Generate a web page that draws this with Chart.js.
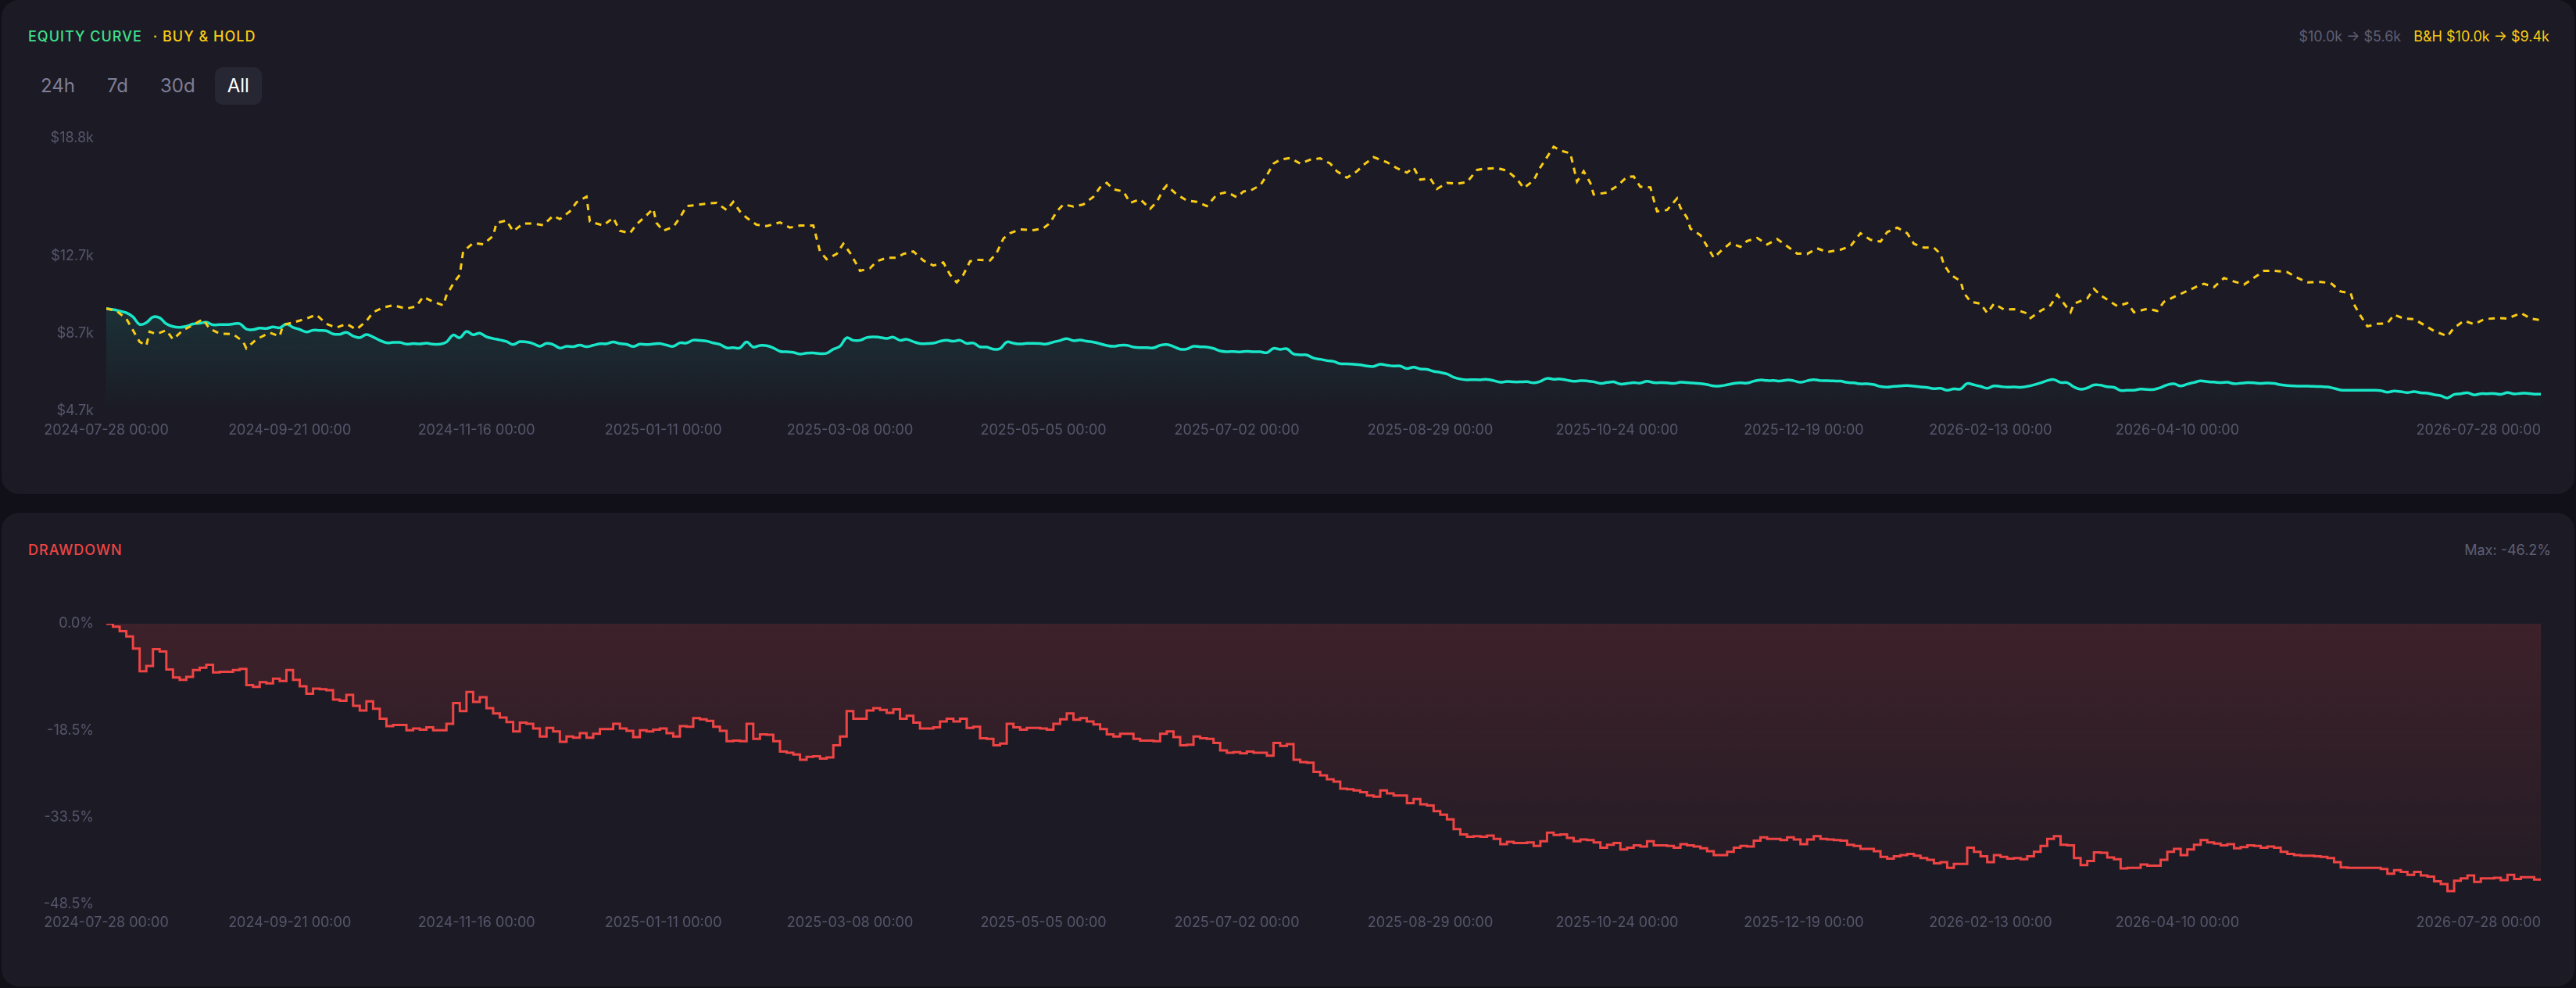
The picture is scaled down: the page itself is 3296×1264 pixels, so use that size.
<!DOCTYPE html>
<html>
<head>
<meta charset="utf-8">
<script src="https://cdn.jsdelivr.net/npm/chart.js@4.4.1/dist/chart.umd.min.js"></script>
<style>
  html, body { margin:0; padding:0; width:3296px; height:1264px; overflow:hidden; background:#111018; font-family:Inter, "Noto Sans", sans-serif; }
  .panel { position:absolute; left:2px; width:3292px; background:#1c1b25; border-radius:22px; }
  #p1 { top:0; height:632px; }
  #p2 { top:656px; height:606px; }
  .txt { position:absolute; font-size:18px; line-height:18px; white-space:nowrap; }
  .title { letter-spacing:1px; font-weight:500; }
  #t1 { left:36px; top:38px; color:#3ee08c; }
  #t1 span { color:#facc15; margin-left:14px; }
  #r1 { right:34px; top:38px; color:#5f5e73; }
  #r1 span { color:#facc15; margin-left:16px; }
  #t2 { left:36px; top:695px; color:#ef4444; }
  #r2 { right:32px; top:695px; color:#5f5e73; }
  #btns { position:absolute; left:36px; top:86px; display:flex; gap:9px; }
  #btns div { height:48px; line-height:48px; padding:0 16px; border-radius:10px; font-size:24px; color:#7f7e96; }
  #btns div.on { background:#272633; color:#ffffff; }
  .wrap { position:absolute; left:0; width:3296px; }
  #w1 { top:150px; height:420px; }
  #w2 { top:770px; height:440px; }
</style>
</head>
<body>
<div class="panel" id="p1"></div>
<div class="panel" id="p2"></div>
<div class="txt title" id="t1">EQUITY CURVE<span>· BUY &amp; HOLD</span></div>
<div class="txt" id="r1">$10.0k → $5.6k<span>B&amp;H $10.0k → $9.4k</span></div>
<div id="btns"><div>24h</div><div>7d</div><div>30d</div><div class="on">All</div></div>
<div class="txt title" id="t2">DRAWDOWN</div>
<div class="txt" id="r2">Max: -46.2%</div>
<div class="wrap" id="w1"><canvas id="c1"></canvas></div>
<div class="wrap" id="w2"><canvas id="c2"></canvas></div>
<script>
// ---------------- data ----------------
const startDate = '2024-07-28';
const sampleEveryDays = 2;
const xTickDates = ['2024-07-28','2024-09-21','2024-11-16','2025-01-11','2025-03-08','2025-05-05',
  '2025-07-02','2025-08-29','2025-10-24','2025-12-19','2026-02-13','2026-04-10','2026-07-28'];
const equityTicks = [4700, 8700, 12700, 18800];
const drawdownTicks = [0, -18.5, -33.5, -48.5];

const strategyEquity = [
  10000,9950,9870,9780,9570,9180,9270,9560,9520,9210,
  9070,9030,9080,9200,9240,9290,9160,9170,9170,9200,
  9220,8940,8910,8990,8970,9050,9010,9200,9030,8920,
  8790,8880,8870,8850,8690,8670,8770,8580,8500,8660,
  8530,8360,8230,8250,8250,8160,8190,8170,8210,8160,
  8160,8270,8630,8490,8820,8650,8730,8540,8450,8380,
  8300,8140,8290,8270,8190,8050,8200,8140,7960,8050,
  8030,8110,8030,8100,8180,8180,8270,8190,8150,8040,
  8160,8140,8170,8190,8110,8050,8230,8220,8370,8350,
  8320,8220,8150,
  7970,7980,7970,8270,8010,8090,8080,7970,7790,7770,
  7740,7650,7700,7710,7670,7690,7900,8050,8490,8360,
  8360,8500,8540,8510,8460,8520,8360,8410,8290,8190,
  8190,8210,8310,8360,8310,8360,8200,8220,8020,8010,
  7900,7930,8270,8210,8170,8200,8200,8190,8170,8270,
  8350,8450,8340,8370,8310,8260,8180,8090,8050,8100,
  8100,8010,7980,7980,7970,8100,8140,8040,7900,7910,
  8050,8020,8010,7940,7810,7770,7780,7760,7790,7770,
  7770,7720,7940,7890,7920,7650,7610,7600,7440,7380,
  7310,
  7270,7150,7140,7120,7090,7030,7010,7120,7070,7030,
  7030,6900,6970,6880,6860,6760,6700,6620,6450,6360,
  6320,6330,6320,6340,6280,6190,6230,6210,6210,6220,
  6160,6240,6390,6350,6360,6300,6240,6270,6260,6220,
  6130,6180,6210,6100,6130,6170,6150,6240,6170,6170,
  6160,6130,6190,6170,6150,6120,6070,6000,6000,6060,
  6130,6160,6150,6250,6310,6280,6280,6260,6310,6270,
  6190,6270,6330,6280,6270,6260,6250,6180,6160,6110,
  6110,6070,5970,5940,5980,6000,6020,5990,5950,5920,
  5860,5880,5780,5850,5850,6130,6060,5980,5880,6000,
  5970,5940,5950,5930,5980,6060,6160,6280,6330,6180,
  6170,5950,5830,5900,6050,6040,5960,5930,5770,5780,
  5780,5840,5820,5820,5920,6060,6110,6000,6100,6180,
  6260,6220,6200,6170,6190,6120,6140,6170,6160,6130,
  6150,6130,6060,6020,6000,5990,5990,5980,5970,5950,
  5880,5790,5780,5780,5780,5780,5780,5760,5680,5740,
  5710,5660,5710,5650,5630,5550,5500,5380,5560,5600,
  5650,5540,5600,5600,5610,5570,5660,5590,5620,5620,
  5580,5580
];

const strategyDrawdown = [
  0,-0.5,-1.3,-2.2,-4.3,-8.2,-7.3,-4.4,-4.8,-7.9,
  -9.3,-9.7,-9.2,-8.0,-7.6,-7.1,-8.4,-8.3,-8.3,-8.0,
  -7.8,-10.6,-10.9,-10.1,-10.3,-9.5,-9.9,-8.0,-9.7,-10.8,
  -12.1,-11.2,-11.3,-11.5,-13.1,-13.3,-12.3,-14.2,-15.0,-13.4,
  -14.7,-16.4,-17.7,-17.5,-17.5,-18.4,-18.1,-18.3,-17.9,-18.4,
  -18.4,-17.3,-13.7,-15.1,-11.8,-13.5,-12.7,-14.6,-15.5,-16.2,
  -17.0,-18.6,-17.1,-17.3,-18.1,-19.5,-18.0,-18.6,-20.4,-19.5,
  -19.7,-18.9,-19.7,-19.0,-18.2,-18.2,-17.3,-18.1,-18.5,-19.6,
  -18.4,-18.6,-18.3,-18.1,-18.9,-19.5,-17.7,-17.8,-16.3,-16.5,
  -16.8,-17.8,-18.5,
  -20.3,-20.2,-20.3,-17.3,-19.9,-19.1,-19.2,-20.3,-22.1,-22.3,
  -22.6,-23.5,-23.0,-22.9,-23.3,-23.1,-21.0,-19.5,-15.1,-16.4,
  -16.4,-15.0,-14.6,-14.9,-15.4,-14.8,-16.4,-15.9,-17.1,-18.1,
  -18.1,-17.9,-16.9,-16.4,-16.9,-16.4,-18.0,-17.8,-19.8,-19.9,
  -21.0,-20.7,-17.3,-17.9,-18.3,-18.0,-18.0,-18.1,-18.3,-17.3,
  -16.5,-15.5,-16.6,-16.3,-16.9,-17.4,-18.2,-19.1,-19.5,-19.0,
  -19.0,-19.9,-20.2,-20.2,-20.3,-19.0,-18.6,-19.6,-21.0,-20.9,
  -19.5,-19.8,-19.9,-20.6,-21.9,-22.3,-22.2,-22.4,-22.1,-22.3,
  -22.3,-22.8,-20.6,-21.1,-20.8,-23.5,-23.9,-24.0,-25.6,-26.2,
  -26.9,
  -27.3,-28.5,-28.6,-28.8,-29.1,-29.7,-29.9,-28.8,-29.3,-29.7,
  -29.7,-31.0,-30.3,-31.2,-31.4,-32.4,-33.0,-33.8,-35.5,-36.4,
  -36.8,-36.7,-36.8,-36.6,-37.2,-38.1,-37.7,-37.9,-37.9,-37.8,
  -38.4,-37.6,-36.1,-36.5,-36.4,-37.0,-37.6,-37.3,-37.4,-37.8,
  -38.7,-38.2,-37.9,-39.0,-38.7,-38.3,-38.5,-37.6,-38.3,-38.3,
  -38.4,-38.7,-38.1,-38.3,-38.5,-38.8,-39.3,-40.0,-40.0,-39.4,
  -38.7,-38.4,-38.5,-37.5,-36.9,-37.2,-37.2,-37.4,-36.9,-37.3,
  -38.1,-37.3,-36.7,-37.2,-37.3,-37.4,-37.5,-38.2,-38.4,-38.9,
  -38.9,-39.3,-40.3,-40.6,-40.2,-40.0,-39.8,-40.1,-40.5,-40.8,
  -41.4,-41.2,-42.2,-41.5,-41.5,-38.7,-39.4,-40.2,-41.2,-40.0,
  -40.3,-40.6,-40.5,-40.7,-40.2,-39.4,-38.4,-37.2,-36.7,-38.2,
  -38.3,-40.5,-41.7,-41.0,-39.5,-39.6,-40.4,-40.7,-42.3,-42.2,
  -42.2,-41.6,-41.8,-41.8,-40.8,-39.4,-38.9,-40.0,-39.0,-38.2,
  -37.4,-37.8,-38.0,-38.3,-38.1,-38.8,-38.6,-38.3,-38.4,-38.7,
  -38.5,-38.7,-39.4,-39.8,-40.0,-40.1,-40.1,-40.2,-40.3,-40.5,
  -41.2,-42.1,-42.2,-42.2,-42.2,-42.2,-42.2,-42.4,-43.2,-42.6,
  -42.9,-43.4,-42.9,-43.5,-43.7,-44.5,-45.0,-46.2,-44.4,-44.0,
  -43.5,-44.6,-44.0,-44.0,-43.9,-44.3,-43.4,-44.1,-43.8,-43.8,
  -44.2,-44.2
];

const bhDays = [
  0,3,6,8,10,12,13,15,18,20,
  23,26,29,31,34,38,41,42,45,49,
  52,53,56,60,63,66,69,72,75,78,
  80,83,86,90,93,95,98,101,102,104,
  106,107,110,113,116,117,120,122,125,128,
  131,134,136,139,141,144,145,149,150,152,
  154,157,159,162,164,165,167,170,172,174,
  177,180,183,186,188,190,192,195,198,202,
  205,208,212,213,214,216,219,221,223,225,
  226,229,231,234,237,239,242,245,248,251,
  253,255,257,259,261,265,267,269,271,274,
  278,281,283,285,287,290,293,296,298,300,
  302,305,307,310,313,315,317,318,321,324,
  327,330,333,336,339,341,343,346,348,350,
  352,355,358,361,364,367,369,372,375,377,
  380,384,387,390,392,394,397,399,402,405,
  408,411,413,417,420,423,425,428,430,432,
  434,436,439,440,441,443,445,446,450,453,
  456,458,460,463,464,465,468,471,472,474,
  475,478,480,482,484,487,490,492,495,498,
  501,504,507,510,513,516,520,523,526,529,
  532,534,537,540,542,545,548,550,551,553,
  556,557,559,562,564,566,569,572,576,577,
  580,583,585,589,590,594,596,598,601,603,
  606,608,612,615,617,620,624,627,629,632,
  635,638,641,644,647,650,654,657,660,664,
  667,670,673,674,676,678,681,684,686,689,
  692,695,698,702,704,707,710,713,717,720,
  724,727,730
];
const bhValues = [
  10000,9880,9480,8880,8280,8080,8810,8680,8880,8410,
  8880,9150,9450,8950,8710,8680,8300,7940,8410,8750,
  8570,9150,9280,9480,9680,9210,9010,9210,8920,9350,
  9810,10050,10170,9990,10120,10610,10350,10170,10680,11280,
  11750,12950,13380,13320,13750,14420,14550,13990,14390,14390,
  14310,14790,14620,15020,15490,15780,14490,14290,14420,14690,
  14020,13890,14350,14820,15150,14420,14020,14220,14690,15290,
  15350,15420,15460,15090,15510,15020,14690,14330,14260,14450,
  14180,14290,14290,13620,12950,12550,12820,13350,12880,12280,
  11950,12080,12440,12620,12620,12820,12950,12480,12220,12380,
  11750,11350,11750,12440,12520,12480,12880,13620,13890,14090,
  14050,14150,14420,15020,15380,15270,15380,15780,16260,16490,
  16160,16050,15460,15650,15150,15510,16160,16360,15890,15580,
  15510,15290,15890,16020,15750,16050,16090,16360,16890,17490,
  17690,17780,17490,17690,17760,17490,17090,16760,17090,17420,
  17820,17560,17250,17020,17290,16660,16720,16180,16490,16450,
  16530,17160,17220,17260,17120,16690,16220,16620,17290,17820,
  18360,18160,18020,17290,16560,17090,16490,15890,15990,16330,
  16800,16820,16290,16260,15620,15020,15090,15690,15220,14690,
  14130,13790,13220,12620,12950,13380,13190,13490,13650,13310,
  13590,13220,12840,12820,13110,12920,13040,13220,13890,13550,
  13460,13950,14180,13890,13350,13150,13150,12820,12280,11750,
  11420,10810,10350,10250,9770,10250,9950,9970,9750,9510,
  9880,10170,10710,9810,10250,10520,11020,10680,10350,10120,
  10280,9810,9990,9880,10350,10600,10910,11150,11280,11110,
  11580,11400,11240,11590,11950,11950,11880,11590,11350,11370,
  11320,10880,10790,10210,9610,9080,9210,9240,9680,9480,
  9450,9150,8840,8570,9010,9370,9190,9450,9510,9480,
  9770,9480,9400
];

// ---------------- helpers ----------------
const DAY = 86400000;
const t0 = Date.parse(startDate + 'T00:00:00Z');
const dayOf = d => (Date.parse(d + 'T00:00:00Z') - t0) / DAY;
const xTickDays = xTickDates.map(dayOf);
const lastDay = xTickDays[xTickDays.length - 1];

const equityPts = strategyEquity.map((v, i) => ({x: i * sampleEveryDays, y: v}));
const ddPts = strategyDrawdown.map((v, i) => ({x: i * sampleEveryDays, y: v}));
const bhPts = bhValues.map((v, i) => ({x: bhDays[i], y: v}));

Chart.defaults.font.family = 'Inter, "Noto Sans", sans-serif';
const TICK_COLOR = '#56556b';

function xAxis(pad, h) {
  return {
    type: 'linear', min: 0, max: lastDay,
    grid: {display: false, drawTicks: false}, border: {display: false},
    afterBuildTicks: s => { s.ticks = xTickDays.map(v => ({value: v})); },
    afterFit: s => { s.height = h; },
    ticks: {
      autoSkip: false, maxRotation: 0, minRotation: 0, align: 'inner', padding: pad,
      color: TICK_COLOR, font: {size: 18},
      callback: (v, i) => xTickDates[i] + ' 00:00'
    }
  };
}
function yAxis(min, max, ticks, fmt) {
  return {
    min, max,
    grid: {display: false, drawTicks: false}, border: {display: false},
    afterBuildTicks: s => { s.ticks = ticks.map(v => ({value: v})); },
    afterFit: s => { s.width = 136; },
    ticks: {padding: 16, color: TICK_COLOR, font: {size: 18}, callback: v => fmt(v)}
  };
}
// keep first date label centred on its tick (inner alignment is used for the last one)
const firstLabelCentre = {
  id: 'firstLabelCentre',
  beforeDraw(chart) {
    const items = chart.scales.x.getLabelItems();
    if (items.length) items[0].options.textAlign = 'center';
  }
};

function vGrad(chart, stops) {
  const a = chart.chartArea;
  if (!a) return 'transparent';
  const g = chart.ctx.createLinearGradient(0, a.top, 0, a.bottom);
  stops.forEach(s => g.addColorStop(s[0], s[1]));
  return g;
}

new Chart(document.getElementById('c1'), {
  type: 'line',
  data: {
    datasets: [
      {label: 'Buy & Hold', data: bhPts, borderColor: '#facc15', borderWidth: 3, borderDash: [8, 7],
       pointRadius: 0, tension: 0, fill: false},
      {label: 'Equity', data: equityPts, borderColor: '#19e6c8', borderWidth: 3.5,
       pointRadius: 0, tension: 0.4, fill: 'start',
       backgroundColor: c => vGrad(c.chart, [[0, 'rgba(25,230,200,0.30)'], [1, 'rgba(25,230,200,0)']])}
    ]
  },
  options: {
    responsive: true, maintainAspectRatio: false, animation: false, devicePixelRatio: 1,
    layout: {padding: {top: 23, right: 45, bottom: 0, left: 0}},
    plugins: {legend: {display: false}, tooltip: {enabled: false}},
    scales: {
      x: xAxis(14, 44),
      y: yAxis(4700, 18800, equityTicks, v => '$' + (v / 1000).toFixed(1) + 'k')
    }
  },
  plugins: [firstLabelCentre]
});

new Chart(document.getElementById('c2'), {
  type: 'line',
  data: {
    datasets: [
      {label: 'Drawdown', data: ddPts, borderColor: '#ef4444', borderWidth: 3, stepped: true,
       pointRadius: 0, fill: 'origin',
       backgroundColor: c => vGrad(c.chart, [[0, 'rgba(239,68,68,0.16)'], [1, 'rgba(239,68,68,0.03)']])}
    ]
  },
  options: {
    responsive: true, maintainAspectRatio: false, animation: false, devicePixelRatio: 1,
    layout: {padding: {top: 28, right: 45, bottom: 0, left: 0}},
    plugins: {legend: {display: false}, tooltip: {enabled: false}},
    scales: {
      x: xAxis(13, 53),
      y: yAxis(-48.5, 0, drawdownTicks, v => v.toFixed(1) + '%')
    }
  },
  plugins: [firstLabelCentre]
});
</script>
</body>
</html>
